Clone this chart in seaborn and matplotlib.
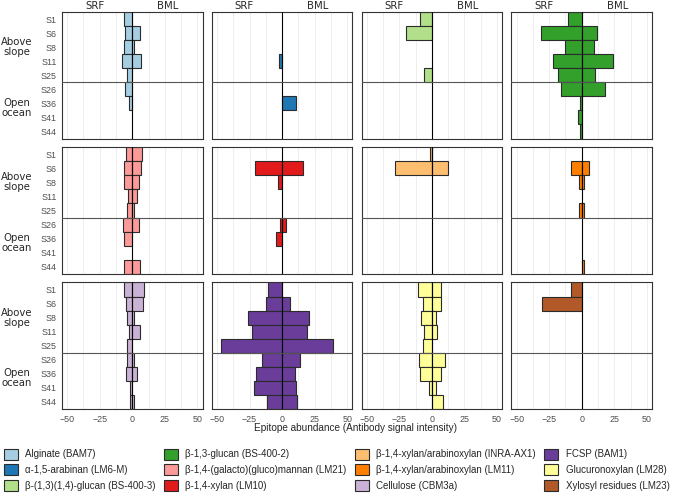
import numpy as np
import pandas as pd
import seaborn as sns
from matplotlib import pyplot as plt
from matplotlib.patches import Patch

stations = ['S1', 'S6', 'S8', 'S11', 'S25', 'S26', 'S36', 'S41', 'S44']

# epitope abundance per station (S1..S44), SRF drawn to the left, BML to the right
srf_bam7 = [6.4, 5.6, 6.4, 8.0, 4.4, 5.6, 2.8, 0, 0]
bml_bam7 = [0, 5.9, 1.3, 6.7, 0, 0, 0, 0, 0]
srf_lm6m = [0, 0, 0, 2.0, 0, 0, 0, 0, 0]
bml_lm6m = [0, 0, 0, 0, 0, 0, 10.5, 0, 0]
srf_bs4003 = [9.0, 19.6, 0, 0, 6.0, 0, 0, 0, 0]
bml_bs4003 = [0, 0, 0, 0, 0, 0, 0, 0, 0]
srf_bs4002 = [10.6, 31.5, 13.0, 21.7, 18.0, 16.0, 1.3, 2.6, 1.3]
bml_bs4002 = [0, 12.0, 9.8, 24.0, 10.0, 17.5, 0, 0, 0]
srf_lm21 = [4.9, 6.2, 6.2, 3.1, 3.8, 6.9, 6.2, 0, 6.4]
bml_lm21 = [7.4, 6.9, 5.4, 3.8, 1.3, 5.4, 0, 0, 6.2]
srf_lm10 = [0, 21.0, 3.3, 0, 0, 1.8, 4.4, 0, 0]
bml_lm10 = [0, 16.0, 0, 0, 0, 2.8, 0, 0, 0]
srf_ax1 = [1.3, 28.0, 0, 0, 0, 0, 0, 0, 0]
bml_ax1 = [0.3, 12.1, 0, 0, 0, 0, 0, 0, 0]
srf_lm11 = [0, 8.3, 1.8, 0, 1.8, 0, 0, 0, 0]
bml_lm11 = [0, 5.9, 1.5, 0, 1.8, 0, 0, 0, 1.5]
srf_cbm3a = [6.4, 4.6, 3.8, 2.3, 4.1, 3.8, 4.9, 1.8, 1.5]
bml_cbm3a = [9.0, 8.5, 1.3, 5.6, 0, 1.3, 3.3, 0, 1.3]
srf_bam1 = [11.0, 12.3, 26.4, 23.0, 47.2, 15.6, 20.0, 21.5, 11.3]
bml_bam1 = [0, 6.2, 20.8, 19.5, 39.2, 13.6, 10.3, 10.5, 11.3]
srf_lm28 = [10.6, 7.2, 8.3, 5.7, 7.2, 9.6, 9.0, 2.6, 0]
bml_lm28 = [7.2, 7.2, 3.4, 4.1, 0, 10.3, 7.2, 3.4, 8.8]
srf_lm23 = [8.0, 30.5, 0, 0, 0, 0, 0, 0, 0]
bml_lm23 = [0, 0, 0, 0, 0, 0, 0, 0, 0]

epitopes = ['Alginate (BAM7)', 'α-1,5-arabinan (LM6-M)', 'β-(1,3)(1,4)-glucan (BS-400-3)',
            'β-1,3-glucan (BS-400-2)', 'β-1,4-(galacto)(gluco)mannan (LM21)', 'β-1,4-xylan (LM10)',
            'β-1,4-xylan/arabinoxylan (INRA-AX1)', 'β-1,4-xylan/arabinoxylan (LM11)', 'Cellulose (CBM3a)',
            'FCSP (BAM1)', 'Glucuronoxylan (LM28)', 'Xylosyl residues (LM23)']
srf_all = [srf_bam7, srf_lm6m, srf_bs4003, srf_bs4002, srf_lm21, srf_lm10,
           srf_ax1, srf_lm11, srf_cbm3a, srf_bam1, srf_lm28, srf_lm23]
bml_all = [bml_bam7, bml_lm6m, bml_bs4003, bml_bs4002, bml_lm21, bml_lm10,
           bml_ax1, bml_lm11, bml_cbm3a, bml_bam1, bml_lm28, bml_lm23]

colors = sns.color_palette('Paired', 12)

rows = []
for ep, s, b in zip(epitopes, srf_all, bml_all):
    for st, v1, v2 in zip(stations, s, b):
        rows.append({'epitope': ep, 'station': st, 'side': 'SRF', 'value': -v1})
        rows.append({'epitope': ep, 'station': st, 'side': 'BML', 'value': v2})
df = pd.DataFrame(rows)

sns.set_style('white')
plt.rcParams['font.family'] = ['DejaVu Sans']

fig, axes = plt.subplots(3, 4, figsize=(6.85, 4.93), dpi=100, sharex=True, sharey=True)
plt.subplots_adjust(left=62 / 685, right=652 / 685, top=1 - 12 / 493, bottom=1 - 409 / 493,
                    wspace=0.066, hspace=0.069)

edge = '#2b2b2b'
for i, ep in enumerate(epitopes):
    ax = axes.flat[i]
    sub = df[(df['epitope'] == ep) & (df['value'] != 0)]
    for side in ['SRF', 'BML']:
        part = sub[sub['side'] == side]
        if len(part) == 0:
            continue
        sns.barplot(data=part, y='station', x='value', order=stations, orient='h',
                    color=colors[i], saturation=1, width=1.0, edgecolor=edge,
                    linewidth=0.8, ax=ax)
    ax.set_xlim(-54, 54)
    ax.set_ylim(8.5, -0.5)
    ax.set_xticks([-50, -25, 0, 25, 50])
    ax.set_xticklabels(['\u221250', '\u221225', '0', '25', '50'])
    ax.set_xticks([-37.5, -12.5, 12.5, 37.5], minor=True)
    ax.grid(True, axis='x', which='both', color='#ebebeb', lw=0.6)
    ax.grid(False, axis='y')
    ax.set_axisbelow(True)
    ax.axvline(0, color='black', lw=0.8, zorder=3)
    ax.axhline(4.5, color='#555555', lw=0.8, zorder=3)
    ax.set_xlabel('')
    ax.set_ylabel('')
    for sp in ax.spines.values():
        sp.set_color('#333333')
        sp.set_linewidth(0.8)
    ax.tick_params(axis='both', which='major', length=2.5, color='#555555', labelsize=6.4,
                   labelcolor='#4d4d4d', pad=1.5)
    ax.tick_params(axis='x', which='minor', length=0)
    if i < 4:
        ax.text(-29, 1.048, 'SRF', transform=ax.get_xaxis_transform(), ha='center',
                va='center', fontsize=7.3)
        ax.text(27.5, 1.048, 'BML', transform=ax.get_xaxis_transform(), ha='center',
                va='center', fontsize=7.3)
    if i % 4 == 0:
        ax.text(-0.32, 2, 'Above\nslope', transform=ax.get_yaxis_transform(), ha='center',
                va='center', fontsize=7.3, linespacing=1.0)
        ax.text(-0.32, 6.3, 'Open\nocean', transform=ax.get_yaxis_transform(), ha='center',
                va='center', fontsize=7.3, linespacing=1.0)
    for lab in ax.get_xticklabels() + ax.get_yticklabels():
        lab.set_fontfamily('Liberation Sans')

fig.text(355 / 685, 1 - 428 / 493, 'Epitope abundance (Antibody signal intensity)',
         ha='center', va='center', fontsize=7.2, family='Liberation Sans')

handles = [Patch(facecolor=c, edgecolor=edge, lw=0.8) for c in colors]
fig.legend(handles, epitopes, ncol=4, loc='lower left', bbox_to_anchor=(2 / 685, 0.0),
           frameon=False, prop={'family': 'Liberation Sans', 'size': 7.0},
           handlelength=1.4, handleheight=1.4, handletextpad=0.8, columnspacing=0.85,
           labelspacing=0.45, borderpad=0.1, borderaxespad=0.1)

plt.savefig('out.png', dpi=100)
